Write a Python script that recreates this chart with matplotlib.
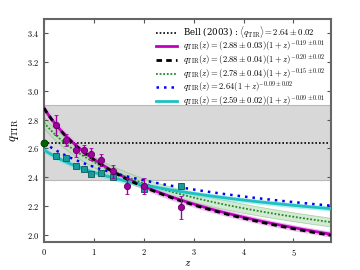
import matplotlib
matplotlib.use('Agg')
import matplotlib.pyplot as plt
import numpy as np
from matplotlib.ticker import FormatStrFormatter

plt.rcParams['mathtext.fontset'] = 'cm'
plt.rcParams['font.family'] = 'serif'
plt.rcParams['font.serif'] = ['DejaVu Serif']

# Bell (2003) mean and band
bell_q = 2.64
bell_band = (2.38, 2.90)

amp_mag, amp_mag_err, exp_mag = 2.88, 0.03, -0.19
amp_blk, exp_blk = 2.88, -0.192
amp_grn, amp_grn_err, exp_grn = 2.78, 0.04, -0.15
amp_blu, exp_blu = 2.64, -0.095
amp_cyn, amp_cyn_err, exp_cyn = 2.59, 0.02, -0.09

# Magenta data points
z_mag = [0.24, 0.44, 0.65, 0.81, 0.95, 1.15, 1.39, 1.66, 2.00, 2.75]
q_mag = [2.76, 2.66, 2.59, 2.59, 2.56, 2.52, 2.44, 2.34, 2.34, 2.19]
e_mag = [0.07, 0.04, 0.05, 0.035, 0.04, 0.04, 0.045, 0.055, 0.055, 0.08]

# Cyan data points
z_cyn = [0.24, 0.44, 0.65, 0.81, 0.95, 1.15, 1.39, 2.00, 2.75]
q_cyn = [2.55, 2.53, 2.48, 2.46, 2.42, 2.43, 2.40, 2.32, 2.34]
e_cyn = [0.015, 0.015, 0.015, 0.015, 0.015, 0.015, 0.02, 0.02, 0.02]

# Local value at z = 0
z_loc, q_loc = [0.0], [2.64]

z = np.linspace(0, 5.75, 300)

fig = plt.figure(figsize=(3.6, 2.7), dpi=100)
ax = fig.add_axes([0.122, 0.104, 0.797, 0.826])

ax.axhspan(bell_band[0], bell_band[1], facecolor='#d8d8d8', edgecolor='#b8b8b8', lw=0.8, zorder=0)
ax.axhline(bell_q, color='k', ls=(0, (1, 1.2)), lw=1.2, zorder=2,
           label=r'Bell (2003) : $\langle q_{\rm TIR}\rangle = 2.64 \pm 0.02$')

# bands
ax.fill_between(z, (amp_mag - amp_mag_err) * (1 + z) ** exp_mag, (amp_mag + amp_mag_err) * (1 + z) ** exp_mag,
                color='#e9a8e9', alpha=0.7, lw=0, zorder=1)
ax.fill_between(z, (amp_grn - amp_grn_err) * (1 + z) ** exp_grn, (amp_grn + amp_grn_err) * (1 + z) ** exp_grn,
                facecolor='#b8dcb8', edgecolor='#7fbf7f', alpha=0.6, lw=0.6, zorder=1)
ax.fill_between(z, (amp_cyn - amp_cyn_err) * (1 + z) ** exp_cyn, (amp_cyn + amp_cyn_err) * (1 + z) ** exp_cyn,
                color='#7fe0e0', alpha=0.6, lw=0, zorder=1)

ax.plot(z, amp_mag * (1 + z) ** exp_mag, color='#c000c0', lw=2, zorder=3,
        label=r'$q_{\rm TIR}(z) = (2.88 \pm 0.03)(1+z)^{-0.19 \pm 0.01}$')
ax.plot(z, amp_blk * (1 + z) ** exp_blk, color='k', lw=2, ls=(0, (2, 1.5)), zorder=4,
        label=r'$q_{\rm TIR}(z) = (2.88 \pm 0.04)(1+z)^{-0.20 \pm 0.02}$')
ax.plot(z, amp_grn * (1 + z) ** exp_grn, color='#228b22', lw=1.3, ls=(0, (1, 1)), zorder=3,
        label=r'$q_{\rm TIR}(z) = (2.78 \pm 0.04)(1+z)^{-0.15 \pm 0.02}$')
ax.plot(z, amp_blu * (1 + z) ** exp_blu, color='#0000ff', lw=1.8, ls=(0, (1, 2.0)), zorder=3,
        label=r'$q_{\rm TIR}(z) = 2.64(1+z)^{-0.09 \pm 0.02}$')
ax.plot(z, amp_cyn * (1 + z) ** exp_cyn, color='#1fc0c0', lw=2, zorder=3,
        label=r'$q_{\rm TIR}(z) = (2.59 \pm 0.02)(1+z)^{-0.09 \pm 0.01}$')

ax.errorbar(z_cyn, q_cyn, yerr=e_cyn, fmt='s', ms=4.5, mfc='#1a9a9a', mec='#0a5a5a', mew=0.6,
            ecolor='#1a9a9a', elinewidth=1, capsize=1.5, zorder=5)
ax.errorbar(z_mag, q_mag, yerr=e_mag, fmt='o', ms=4.5, mfc='#a000a0', mec='#600060', mew=0.6,
            ecolor='#a000a0', elinewidth=1, capsize=1.5, zorder=6)
ax.plot(z_loc, q_loc, 'o', ms=5, mfc='#006400', mec='#003000', mew=0.6, zorder=6, clip_on=False)

ax.set_xlim(0, 5.75)
ax.set_ylim(1.95, 3.5)
ax.set_xticks([0, 1, 2, 3, 4, 5])
ax.set_yticks([2.0, 2.2, 2.4, 2.6, 2.8, 3.0, 3.2, 3.4])
ax.xaxis.set_major_formatter(FormatStrFormatter(r'$%d$'))
ax.yaxis.set_major_formatter(FormatStrFormatter(r'$%.1f$'))
ax.tick_params(direction='in', top=True, right=True, labelsize=6, length=3, width=0.8, color='#555555')
for s in ax.spines.values():
    s.set_color('#666666')
    s.set_linewidth(1.5)

ax.set_xlabel(r'$z$', fontsize=8, labelpad=0)
ax.set_ylabel(r'$q_{\rm TIR}$', fontsize=9, labelpad=4)

leg = ax.legend(loc='upper right', fontsize=6.2, frameon=False, handlelength=2.4,
                handletextpad=0.7, labelspacing=-0.15, borderaxespad=0.25)

fig.savefig('out.png', dpi=100)
